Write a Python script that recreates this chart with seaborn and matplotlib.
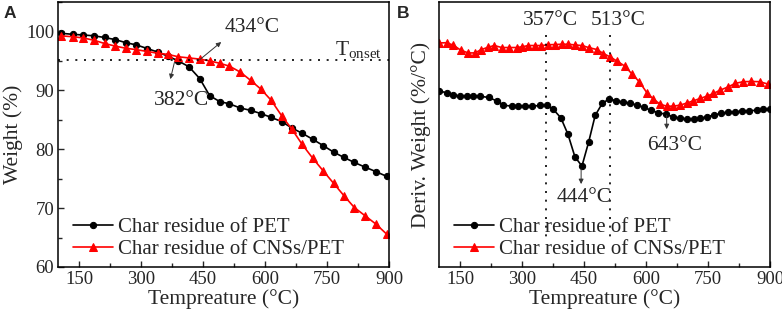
import matplotlib
matplotlib.use('Agg')
import matplotlib.pyplot as plt
import seaborn as sns
from matplotlib.ticker import MultipleLocator, NullLocator

# panel A: TGA curves
temp_a = [106, 135, 160, 186, 212, 238, 263, 289, 315, 340, 365, 390, 416, 442, 466, 490,
          514, 540, 565, 590, 615, 640, 665, 690, 715, 741, 766, 791, 816, 842, 868, 894]
weight_pet = [99.7, 99.5, 99.4, 99.25, 98.97, 98.6, 98.1, 97.7, 97.1, 96.5, 95.8, 95.0, 94.0, 92.0, 89.1, 88.1,
              87.7, 87.0, 86.6, 86.05, 85.4, 84.7, 83.6, 82.7, 81.7, 80.6, 79.5, 78.6, 77.75, 76.96, 76.2, 75.4]
weight_cns = [99.25, 99.1, 98.9, 98.5, 97.95, 97.5, 97.15, 96.9, 96.6, 96.3, 96.1, 95.7, 95.5, 95.3, 95.0, 94.6,
              94.1, 93.1, 91.7, 90.2, 88.3, 85.7, 83.4, 80.8, 78.5, 76.3, 74.2, 72.1, 70.1, 68.7, 67.3, 65.6]
t_onset = 95.2

# panel B: DTG curves (no scale on the axis)
temp_b_pet = [100, 118, 134, 150, 166, 182, 198, 219, 239, 255, 275, 291, 307, 324, 344, 360,
              376, 394, 411, 428, 445, 461, 477, 494, 511, 528, 545, 562, 579, 595, 611, 630,
              648, 665, 682, 698, 715, 731, 747, 765, 781, 799, 815, 832, 850, 868, 884, 900]
deriv_pet = [-0.0907, -0.0927, -0.0947, -0.0960, -0.0960, -0.0960, -0.0960, -0.0973, -0.1007, -0.1050,
             -0.1060, -0.1060, -0.1060, -0.1060, -0.1053, -0.1053, -0.1093, -0.1177, -0.1340, -0.1567,
             -0.1660, -0.1423, -0.1153, -0.1033, -0.0987, -0.1007, -0.1020, -0.1033, -0.1050, -0.1073,
             -0.1100, -0.1127, -0.1140, -0.1167, -0.1180, -0.1187, -0.1193, -0.1183, -0.1167, -0.1147,
             -0.1133, -0.1123, -0.1117, -0.1110, -0.1107, -0.1100, -0.1093, -0.1093]
temp_b_cns = [100, 118, 134, 152, 170, 186, 202, 218, 233, 251, 269, 287, 301, 315, 331, 347,
              364, 380, 396, 412, 428, 445, 461, 481, 497, 513, 529, 549, 565, 584, 602, 618,
              634, 650, 666, 682, 698, 714, 731, 747, 763, 779, 799, 815, 835, 855, 875, 896]
deriv_cns = [-0.0427, -0.0425, -0.0450, -0.0500, -0.0527, -0.0527, -0.0493, -0.0470, -0.0453, -0.0473,
             -0.0473, -0.0473, -0.0465, -0.0453, -0.0453, -0.0453, -0.0445, -0.0443, -0.0440, -0.0440,
             -0.0447, -0.0453, -0.0473, -0.0493, -0.0533, -0.0567, -0.0607, -0.0660, -0.0733, -0.0817,
             -0.0925, -0.0990, -0.1040, -0.1060, -0.1060, -0.1050, -0.1030, -0.1007, -0.0983, -0.0960,
             -0.0933, -0.0900, -0.0867, -0.0833, -0.0815, -0.0813, -0.0815, -0.0840]

lab_pet = 'Char residue of PET'
lab_cns = 'Char residue of CNSs/PET'

sns.set_style('ticks')
plt.rcParams['font.family'] = ['Liberation Serif', 'DejaVu Serif']
plt.rcParams['mathtext.fontset'] = 'custom'
plt.rcParams['mathtext.rm'] = 'Liberation Serif'

fig = plt.figure(figsize=(7.82, 3.25), dpi=100)
ax1 = fig.add_axes([0.0746, 0.1785, 0.4229, 0.8154])
ax2 = fig.add_axes([0.5618, 0.1785, 0.4229, 0.8154])

for ax, tp, yp, tc, yc in [(ax1, temp_a, weight_pet, temp_a, weight_cns),
                           (ax2, temp_b_pet, deriv_pet, temp_b_cns, deriv_cns)]:
    sns.lineplot(x=tp, y=yp, ax=ax, color='black', lw=1.2, marker='o', markersize=4.5,
                 markeredgecolor='black', label=lab_pet)
    sns.lineplot(x=tc, y=yc, ax=ax, color='#ff0000', lw=1.2, marker='^', markersize=5.5,
                 markeredgecolor='#ff0000', label=lab_cns)
    ax.set_xlim(100, 900)
    ax.xaxis.set_major_locator(MultipleLocator(150))
    ax.xaxis.set_minor_locator(MultipleLocator(75))
    ax.tick_params(which='major', direction='in', length=4, width=1, labelsize=13.5, pad=3)
    ax.tick_params(which='minor', direction='in', length=3, width=1)
    for s in ax.spines.values():
        s.set_linewidth(1.1)
        s.set_color('black')
    ax.set_xlabel('Tempreature (°C)', fontsize=15.5, labelpad=1)
    ax.legend(loc='lower left', bbox_to_anchor=(0.045, 0.03), frameon=False, fontsize=15,
              handlelength=1.9, handletextpad=0.25, labelspacing=0.12, borderpad=0, borderaxespad=0)

ax1.set_ylim(60, 105)
ax1.yaxis.set_major_locator(MultipleLocator(10))
ax1.yaxis.set_minor_locator(MultipleLocator(5))
ax1.set_ylabel('Weight (%)', fontsize=15.5, labelpad=2)
ax1.axhline(t_onset, color='black', lw=1.2, ls=(0, (1.2, 4)))
ax1.text(827, 96.0, r'T$_{\mathrm{onset}}$', fontsize=15.5, ha='center', va='baseline')

arrow = dict(arrowstyle='-|>', lw=0.7, color='#333333', mutation_scale=7, shrinkA=0, shrinkB=0)
ax1.annotate('', xy=(494, 98.2), xytext=(442, 95.2), arrowprops=arrow)
ax1.text(568, 100.7, '434°C', fontsize=15.5, ha='center', va='center')
ax1.annotate('', xy=(371, 91.9), xytext=(381, 94.8), arrowprops=arrow)
ax1.text(398, 88.2, '382°C', fontsize=15.5, ha='center', va='center')

ax2.set_ylim(-0.267, -0.0017)
ax2.yaxis.set_major_locator(NullLocator())
ax2.yaxis.set_minor_locator(NullLocator())
ax2.set_ylabel('Deriv. Weight (%/°C)', fontsize=15.5, labelpad=6)
for xv in [357, 513]:
    ax2.plot([xv, xv], [-0.035, -0.242], color='black', lw=1.2, ls=(0, (1.2, 4)))
ax2.text(369, -0.020, '357°C', fontsize=15.5, ha='center', va='center')
ax2.text(533, -0.020, '513°C', fontsize=15.5, ha='center', va='center')
ax2.annotate('', xy=(443, -0.184), xytext=(443, -0.169), arrowprops=arrow)
ax2.text(450, -0.197, '444°C', fontsize=15.5, ha='center', va='center')
ax2.annotate('', xy=(650, -0.129), xytext=(650, -0.115), arrowprops=arrow)
ax2.text(668, -0.145, '643°C', fontsize=15.5, ha='center', va='center')

fig.text(0.004, 1 - 18 / 325, 'A', fontsize=12.5, fontweight='bold', family='Liberation Sans', va='baseline')
fig.text(0.5077, 1 - 18 / 325, 'B', fontsize=12.5, fontweight='bold', family='Liberation Sans', va='baseline')

fig.savefig('out.png', dpi=100)
